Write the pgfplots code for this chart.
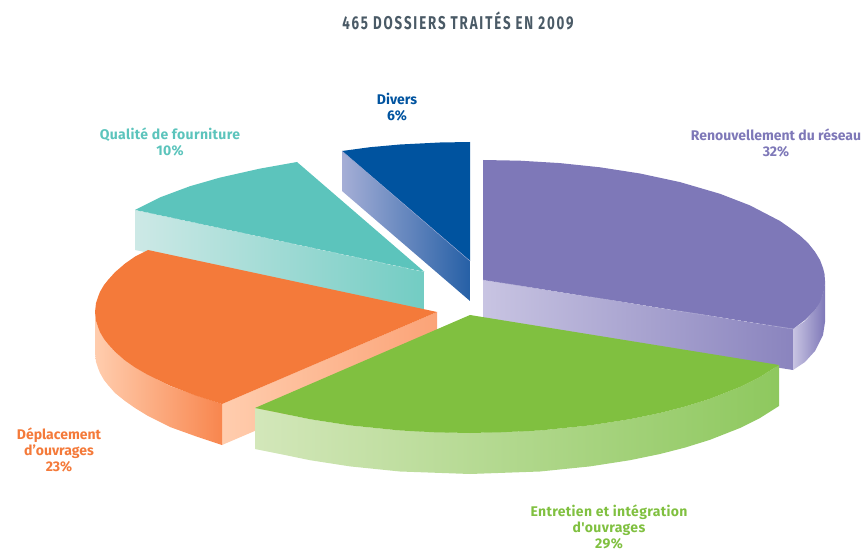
\documentclass[border=0pt]{standalone}
\usepackage{fontspec}
\setmainfont{Fira Sans}
\newfontfamily\widefont[LetterSpace=2.5]{Fira Sans}
\newfontfamily\titlefont[FakeStretch=0.72,LetterSpace=10]{Fira Sans Bold}
\usepackage{pgfplots}
\pgfplotsset{compat=1.18}
\definecolor{purpleT}{HTML}{7E78B8}
\definecolor{purpleL}{HTML}{C8C4E2}
\definecolor{purpleD}{HTML}{8A84BE}
\definecolor{greenT}{HTML}{80C040}
\definecolor{greenL}{HTML}{D3E7BA}
\definecolor{greenD}{HTML}{8EC85E}
\definecolor{orangeT}{HTML}{F47A3A}
\definecolor{orangeL}{HTML}{FFCDAE}
\definecolor{orangeD}{HTML}{F8864E}
\definecolor{orangeE}{HTML}{FBA377}
\definecolor{tealT}{HTML}{5CC4BC}
\definecolor{tealL}{HTML}{CDE9E6}
\definecolor{tealD}{HTML}{72CCC3}
\definecolor{blueT}{HTML}{00539F}
\definecolor{blueL}{HTML}{A5AED6}
\definecolor{blueD}{HTML}{2660A6}
\definecolor{titleC}{HTML}{4A5A66}
\begin{document}
\begin{tikzpicture}
\begin{axis}[
  scale only axis, width=865pt, height=550pt,
  xmin=0, xmax=865, ymin=0, ymax=550, y dir=reverse,
  hide axis, clip=false, no markers,
  every axis plot/.append style={forget plot, draw=none},
]
\path[draw=none] (axis cs:0,0) rectangle (axis cs:865,550);
% --- Renouvellement du reseau 32%
\addplot[left color=purpleL, right color=purpleD] coordinates {(483,280)(793,329)(793,370)(483,321)} -- cycle;
\addplot[left color=purpleL, right color=purpleT] coordinates {(793,329)(805,321)(815,310)(823,294)(825,281)(825,322)(823,335)(815,351)(805,362)(793,370)} -- cycle;
\addplot[fill=purpleT] coordinates {(483,160)(520,160.7)(560,163.1)(600,167.3)(640,173.5)(680,182.1)(720,193.8)(750,205.4)(780,221)(790,228)(800,235.6)(808,243)(815,251.8)(820,260)(823,268)(824.5,274)(825,281)(824.5,288)(823,294)(820,302)(815,310)(805,320)(793,329)(483,280)} -- cycle;
\addplot[draw=purpleL, line width=0.4pt, dashed] coordinates {(483,280)(793,329)};
% --- Qualite de fourniture 10%
\addplot[left color=tealL, right color=tealD] coordinates {(135,210)(424.5,272)(424.5,311)(135,250)} -- cycle;
\addplot[fill=tealT] coordinates {(135,210)(160,197.4)(190,186.2)(220,177.6)(260,168.6)(297,162)(424.5,272)} -- cycle;
\addplot[draw=tealL, line width=0.4pt, dashed] coordinates {(135,210)(424.5,272)};
% --- Divers 6%
\addplot[left color=blueL, right color=blueD] coordinates {(342,151)(470,261)(470,301)(342,191)} -- cycle;
\addplot[fill=blueT] coordinates {(342,151)(370,147.2)(400,144.5)(440,142.5)(470,142)(470,261)} -- cycle;
\addplot[draw=blueL, line width=0.4pt] coordinates {(342,151)(470,261)};
% --- Deplacement d'ouvrages 23%
\addplot[left color=orangeL, right color=orangeE] coordinates {(222,404)(437,312)(437,353)(222,445)} -- cycle;
\addplot[left color=orangeL, right color=orangeD] coordinates {(95,312)(96,321)(98,327)(100,332)(104,339)(108,344)(115,352)(125,360)(135,367)(148,375)(170,386)(195,395)(222,404)(222,445)(195,436)(170,427)(148,416)(135,408)(125,401)(115,393)(108,385)(104,380)(100,373)(98,368)(96,362)(95,353)} -- cycle;
\addplot[fill=orangeT] coordinates {(148,250)(135,256.6)(125,263.6)(115,272.2)(108,280)(104,285)(100,291.8)(98,297)(96,303)(95,312)(96,321)(98,327)(100,332.2)(104,339)(108,344)(115,351.8)(125,360.4)(135,367.4)(148,375)(170,385.7)(195,395.3)(222,404)(437,312)} -- cycle;
% --- Entretien et integration d'ouvrages 29%
\addplot[left color=greenL, right color=greenD] coordinates {(255,408)(280,413)(310,419.2)(350,425.4)(400,430.5)(470,433)(540,430.5)(590,425.4)(630,419.2)(660,413)(685,406.6)(710,398.8)(740,387)(760,377)(779,365)(779,406)(760,418)(740,428)(710,439.8)(685,447.6)(660,454)(630,460.2)(590,466.4)(540,471.5)(470,474)(400,471.5)(350,466.4)(310,460.2)(280,454)(255,449)} -- cycle;
\addplot[fill=greenT] coordinates {(470,315)(779,365)(760,377)(740,387)(710,398.8)(685,406.6)(660,413)(630,419.2)(590,425.4)(540,430.5)(500,432.3)(470,433)(435,432.3)(400,430.5)(350,425.4)(310,419.2)(280,413)(255,408)} -- cycle;
% --- texts
\node[text=titleC, font={\titlefont\fontsize{18.5}{20}\selectfont}] at (axis cs:458,21) {465 DOSSIERS TRAITÉS EN 2009};
\tikzset{lab/.style={align=center, font={\bfseries\fontsize{14}{16}\selectfont}},
         labw/.style={align=center, font={\widefont\bfseries\fontsize{14}{16}\selectfont}}}
\node[lab, text=blueT] at (axis cs:397,107) {Divers\\6\%};
\node[lab, text=purpleT] at (axis cs:776,143) {Renouvellement du réseau\\32\%};
\node[labw, text=tealT] at (axis cs:170,142) {Qualité de fourniture\\10\%};
\node[lab, text=orangeT] at (axis cs:59,450) {Déplacement\\d'ouvrages\\23\%};
\node[labw, text=greenT] at (axis cs:609,527) {Entretien et intégration\\d'ouvrages\\29\%};
\end{axis}
\end{tikzpicture}
\end{document}
